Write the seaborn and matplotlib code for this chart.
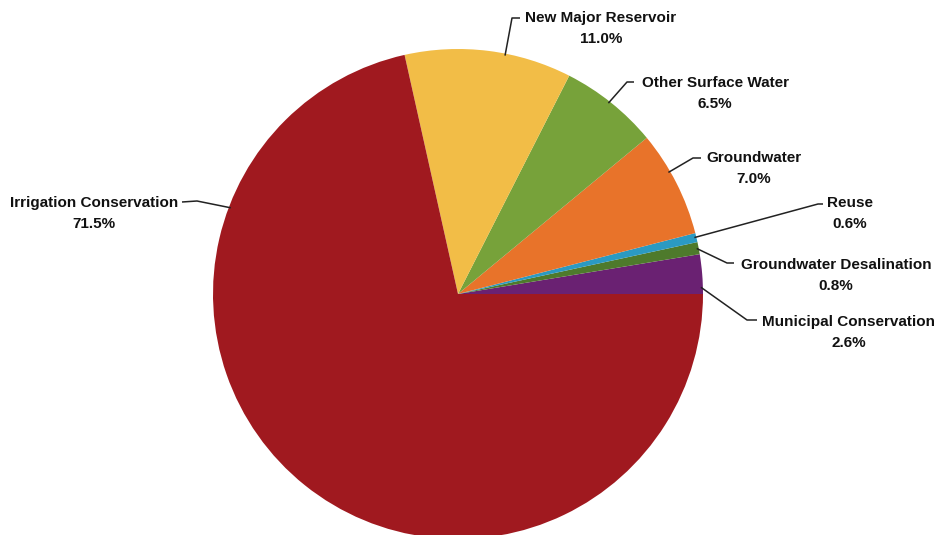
import numpy as np
import matplotlib
matplotlib.use("Agg")
import matplotlib.pyplot as plt
import seaborn as sns

# data
categories = ["Municipal Conservation", "Groundwater Desalination", "Reuse",
              "Groundwater", "Other Surface Water", "New Major Reservoir",
              "Irrigation Conservation"]
shares = [2.6, 0.8, 0.6, 7.0, 6.5, 11.0, 71.5]
colors = ["#6A2172", "#4E7A2C", "#2B9AC2", "#E8732A", "#77A23A", "#F2BD47", "#A0191F"]

# label layout in pixels (from top-left): text centre, elbow, line end, anchor fraction in wedge
text_pos = [(849, 322), (836, 265), (850, 203), (754, 158), (715, 83), (601, 18), (94, 203)]
elbows = [(747, 320), (727, 263), (818, 204), (693, 158), (627, 82), (512, 18), (197, 201)]
line_ends = [(757, 320), (734, 263), (823, 204), (701, 158), (634, 82), (520, 18), (182, 202)]
anchor_frac = [0.17, 0.5, 0.55, 0.62, 0.52, 0.4, 0.22]

W, H = 936, 535
CX, CY, R = 458, 294, 245

sns.set_theme(style="white")
plt.rcParams['font.family'] = ['Liberation Sans', 'DejaVu Sans']

fig = plt.figure(figsize=(W / 100, H / 100), dpi=100)
ax = fig.add_axes([0, 0, 1, 1])

wedges, _ = ax.pie(shares, colors=colors, startangle=0, counterclock=True,
                   center=(CX, H - CY), radius=R,
                   wedgeprops=dict(linewidth=0))

ax.set_xlim(0, W)
ax.set_ylim(0, H)
ax.set_aspect("equal")
ax.axis("off")

for w, name, val, tp, el, le, fr in zip(wedges, categories, shares, text_pos,
                                         elbows, line_ends, anchor_frac):
    ang = np.deg2rad(w.theta1 + fr * (w.theta2 - w.theta1))
    sx = CX + (R - 2) * np.cos(ang)
    sy = (H - CY) + (R - 2) * np.sin(ang)
    ax.plot([sx, el[0], le[0]], [sy, H - el[1], H - le[1]],
            color="#222222", lw=1.1, solid_capstyle="butt")
    ax.text(tp[0], H - tp[1], name, ha="center", va="center",
            fontsize=11, fontweight="bold", color="#111111")
    ax.text(tp[0], H - tp[1] - 21, f"{val:.1f}%", ha="center", va="center",
            fontsize=11, fontweight="bold", color="#111111")

fig.savefig("out.png", dpi=100)
plt.close(fig)
